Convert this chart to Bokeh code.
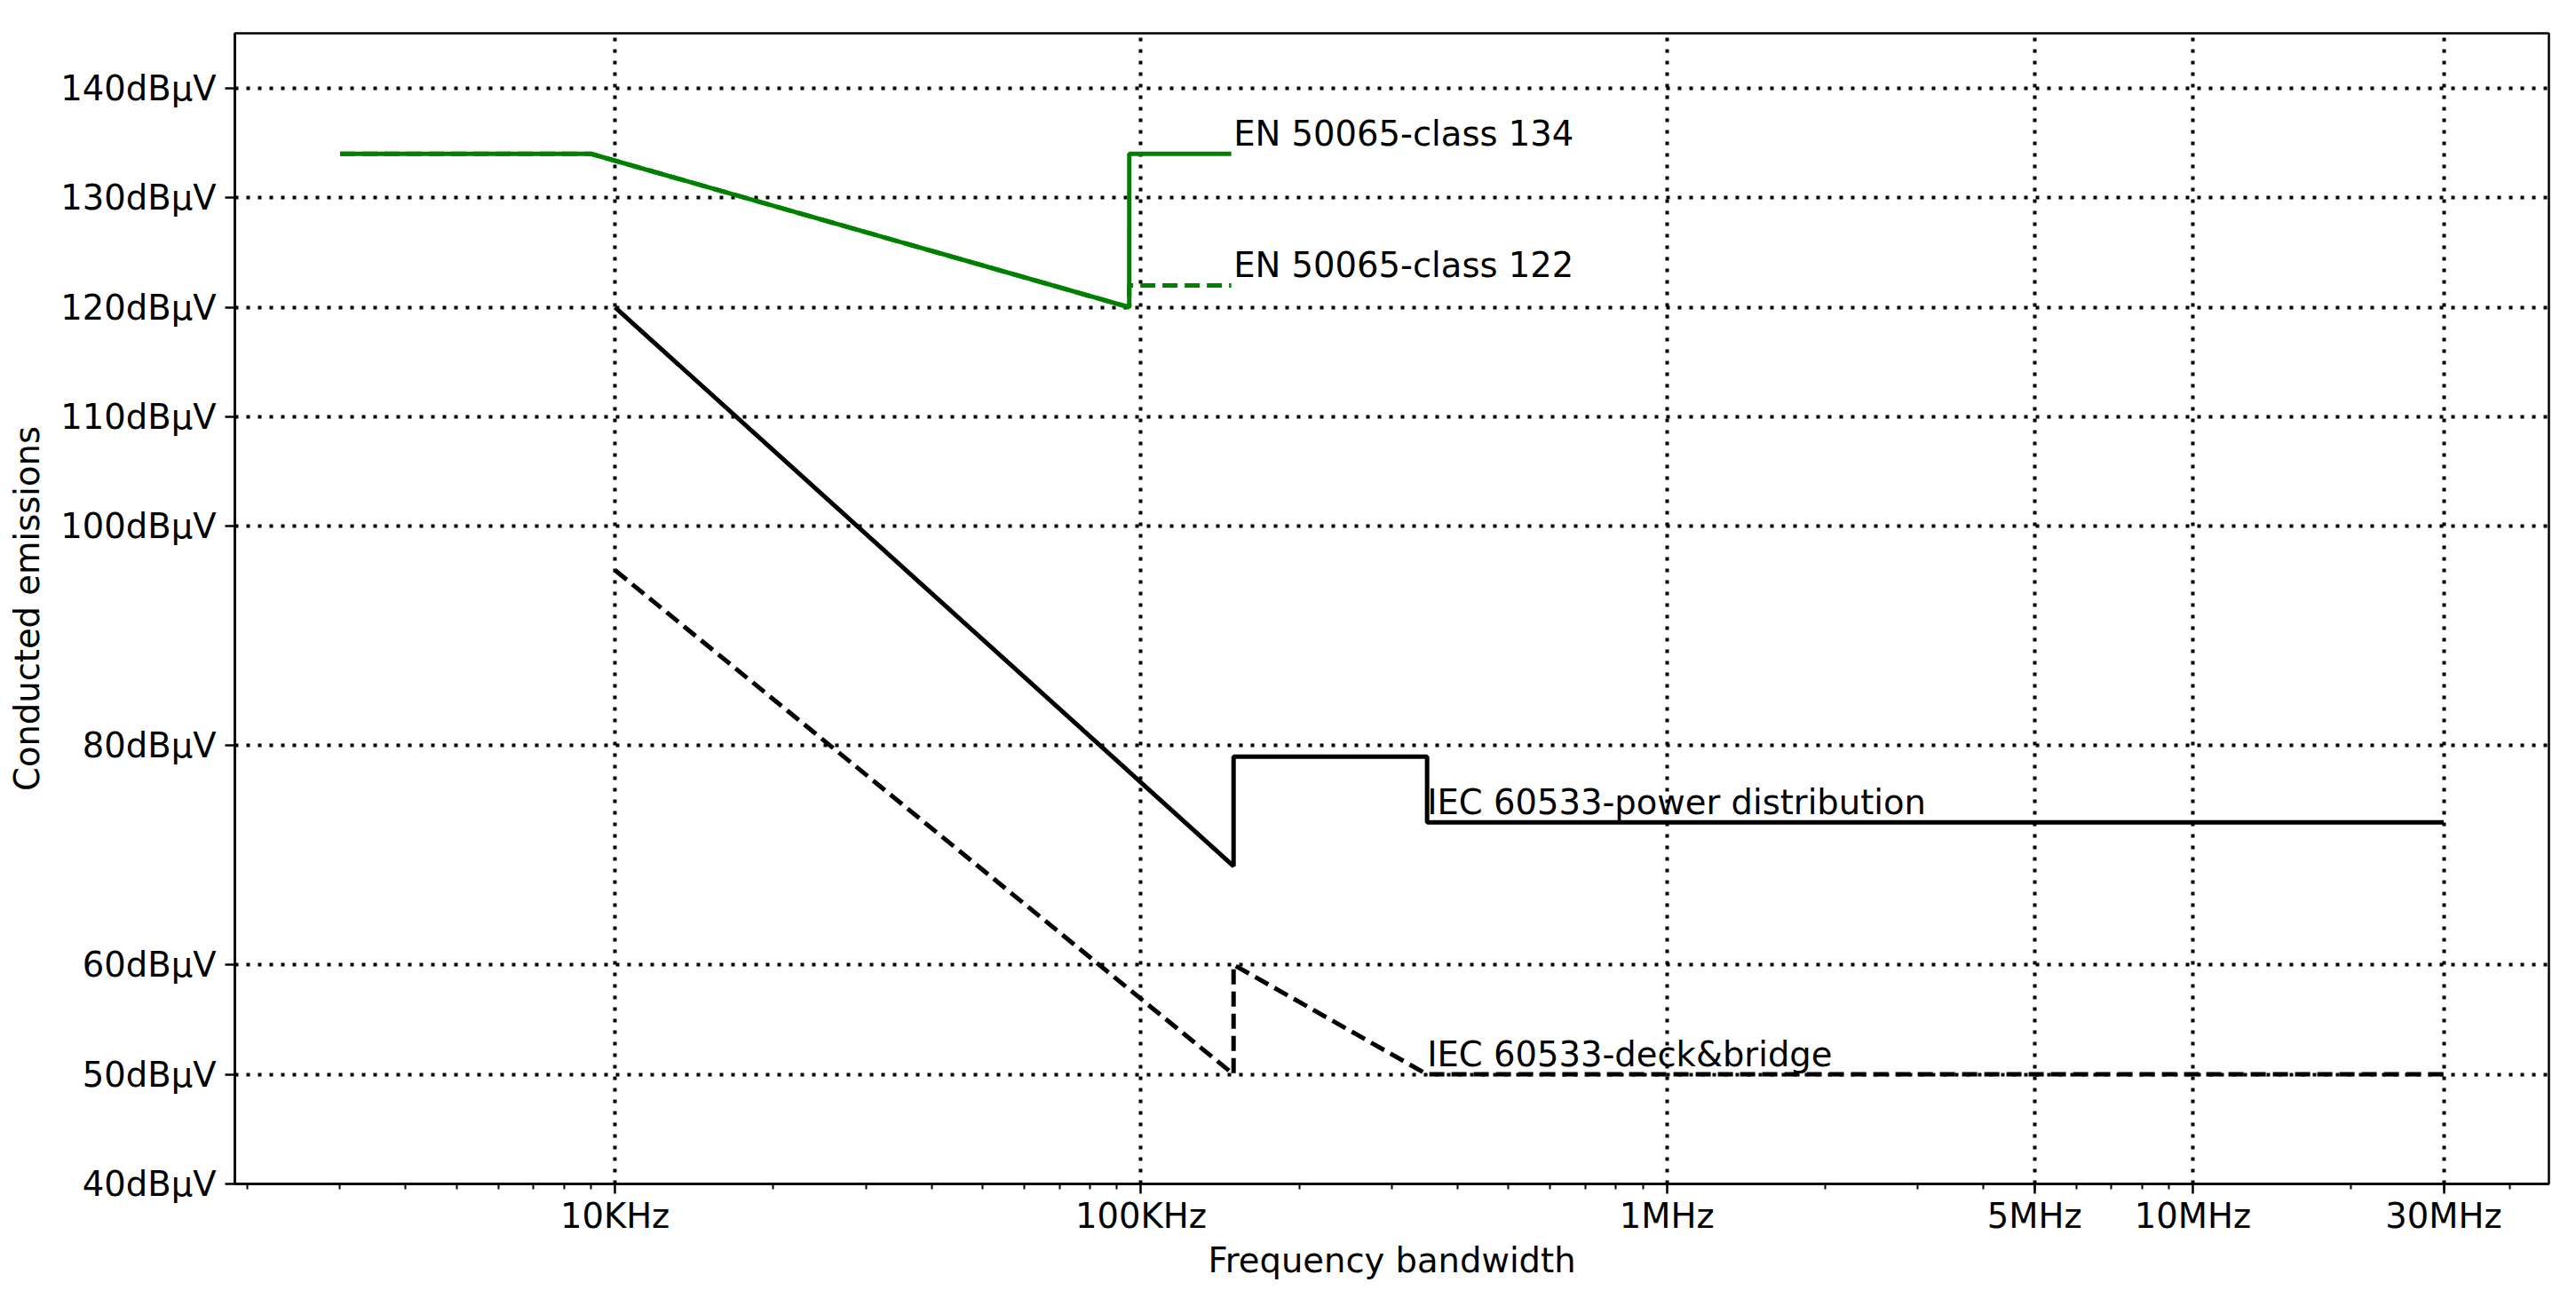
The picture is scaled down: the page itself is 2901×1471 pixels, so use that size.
import math
from bokeh.plotting import figure
from bokeh.models import Range1d, FixedTicker
from bokeh.core.properties import value
from bokeh.embed import file_html
from bokeh.resources import INLINE

# ---- data ----
en134_f = [3e3, 9e3, 95e3, 95e3, 148.5e3]
en134_v = [134, 134, 120, 134, 134]
en122_f = [3e3, 9e3, 95e3, 95e3, 148.5e3]
en122_v = [134, 134, 120, 122, 122]
pd_f = [10e3, 150e3, 150e3, 350e3, 350e3, 30e6]
pd_v = [120, 69, 79, 79, 73, 73]
db_f = [10e3, 150e3, 150e3, 350e3, 30e6]
db_v = [96, 50, 60, 50, 50]

label_texts = ["EN 50065-class 134", "EN 50065-class 122",
               "IEC 60533-power distribution", "IEC 60533-deck&bridge"]
label_f = [150e3, 150e3, 350e3, 350e3]
label_v = [134, 122, 73, 50]

x_ticks = [10000, 100000, 1000000, 5000000, 10000000, 30000000]
x_tick_labels = ["10KHz", "100KHz", "1MHz", "5MHz", "10MHz", "30MHz"]
y_ticks = [40, 50, 60, 80, 100, 110, 120, 130, 140]
y_tick_labels = ["40dBμV", "50dBμV", "60dBμV", "80dBμV", "100dBμV",
                 "110dBμV", "120dBμV", "130dBμV", "140dBμV"]
y_limits = (40, 145)

FONT = "DejaVu Sans"
FS = "38.5px"

# x range: data span with 5% log margin (matplotlib style)
lo = math.log10(min(en134_f))
hi = math.log10(max(pd_f))
pad = 0.05 * (hi - lo)
x_range = Range1d(10 ** (lo - pad), 10 ** (hi + pad))

W, H = 2880, 1450
p = figure(width=W, height=H, x_axis_type="log", x_range=x_range,
           y_range=Range1d(*y_limits), output_backend="svg",
           toolbar_location=None)
p.min_border_left = 264
p.min_border_top = 37
p.min_border_right = W - 2870
p.min_border_bottom = H - 1333
p.background_fill_color = "white"
p.border_fill_color = "white"
p.outline_line_color = "black"
p.outline_line_width = 2.5

# tickers
minor = []
for d in range(3, 8):
    for m in range(2, 10):
        minor.append(m * 10 ** d)
xt = FixedTicker(ticks=x_ticks, minor_ticks=minor)
yt = FixedTicker(ticks=y_ticks, minor_ticks=[])
p.xaxis.ticker = xt
p.yaxis.ticker = yt
p.xgrid.ticker = FixedTicker(ticks=x_ticks)
p.ygrid.ticker = FixedTicker(ticks=y_ticks)
p.xaxis.major_label_overrides = {t: l for t, l in zip(x_ticks, x_tick_labels)}
p.yaxis.major_label_overrides = {t: l for t, l in zip(y_ticks, y_tick_labels)}

for ax in (p.xaxis, p.yaxis):
    ax.axis_line_color = "black"
    ax.axis_line_width = 2.5
    ax.major_tick_line_color = "black"
    ax.major_tick_line_width = 2.5
    ax.major_tick_in = 0
    ax.major_tick_out = 11
    ax.minor_tick_line_color = "black"
    ax.minor_tick_line_width = 2
    ax.minor_tick_in = 0
    ax.minor_tick_out = 6
    ax.major_label_text_font = FONT
    ax.major_label_text_font_size = FS
    ax.major_label_text_color = "black"
    ax.axis_label_text_font = FONT
    ax.axis_label_text_font_size = FS
    ax.axis_label_text_font_style = "normal"
    ax.axis_label_text_color = "black"

p.yaxis.minor_tick_line_color = None
p.xaxis.axis_label = "Frequency bandwidth"
p.yaxis.axis_label = "Conducted emissions"
p.xaxis.major_label_standoff = 2
p.xaxis.axis_label_standoff = 2
p.yaxis.major_label_standoff = 10
p.yaxis.axis_label_standoff = 12

for g in (p.xgrid, p.ygrid):
    g.grid_line_color = "black"
    g.grid_line_width = 4
    g.grid_line_dash = "4 9"
    g.grid_line_alpha = 1.0

GREEN = "#008000"
LW = 5
p.line(en122_f, en122_v, line_color=GREEN, line_width=LW, line_dash="17 8")
p.line(en134_f, en134_v, line_color=GREEN, line_width=LW)
p.line(pd_f, pd_v, line_color="black", line_width=LW)
p.line(db_f, db_v, line_color="black", line_width=LW, line_dash="17 8")

p.text(x=label_f, y=label_v, text=label_texts, text_font=value(FONT),
       text_font_size=value(FS), text_color="black",
       text_baseline="bottom", text_align="left")

open("out.html", "w").write(file_html(p, INLINE))
